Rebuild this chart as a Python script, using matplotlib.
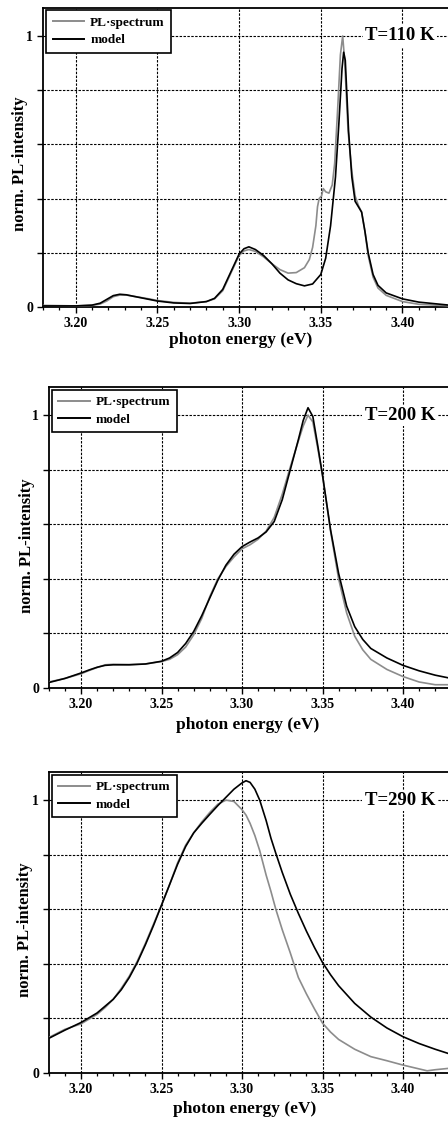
import matplotlib
matplotlib.use("Agg")
import matplotlib.pyplot as plt
from matplotlib.ticker import MultipleLocator, FixedLocator, FixedFormatter

plt.rcParams['font.family'] = ['Liberation Serif', 'DejaVu Serif']
plt.rcParams['font.weight'] = 'bold'

# ---------------- data ----------------
# Panel 1: T = 110 K
e110_pl = [3.18, 3.20, 3.21, 3.215, 3.219, 3.223, 3.227, 3.231, 3.235, 3.24, 3.245, 3.25, 3.26, 3.27,
           3.28, 3.285, 3.29, 3.295, 3.30, 3.303, 3.306, 3.31, 3.315, 3.32, 3.325, 3.33, 3.335, 3.34,
           3.343, 3.345, 3.347, 3.348, 3.349, 3.3505, 3.3515, 3.353, 3.355, 3.357, 3.3585, 3.3605,
           3.362, 3.3634, 3.3646, 3.3667, 3.369, 3.371, 3.373, 3.375, 3.377, 3.379, 3.382, 3.385,
           3.39, 3.40, 3.41, 3.43]
i110_pl = [0.006, 0.004, 0.006, 0.011, 0.022, 0.038, 0.044, 0.044, 0.040, 0.035, 0.030, 0.024, 0.017, 0.014,
           0.020, 0.030, 0.060, 0.125, 0.190, 0.207, 0.212, 0.205, 0.185, 0.160, 0.138, 0.125, 0.127, 0.145,
           0.175, 0.220, 0.300, 0.370, 0.400, 0.410, 0.437, 0.425, 0.420, 0.450, 0.530, 0.750,
           0.930, 1.000, 0.910, 0.650, 0.500, 0.410, 0.375, 0.350, 0.280, 0.190, 0.110, 0.070,
           0.043, 0.020, 0.010, 0.004]
e110_mod = [3.18, 3.20, 3.21, 3.215, 3.219, 3.223, 3.227, 3.231, 3.235, 3.24, 3.245, 3.25, 3.26, 3.27,
            3.28, 3.285, 3.29, 3.295, 3.30, 3.303, 3.306, 3.31, 3.315, 3.32, 3.325, 3.33, 3.335, 3.34,
            3.345, 3.35, 3.353, 3.356, 3.359, 3.361, 3.363, 3.364, 3.365, 3.367, 3.369, 3.371, 3.373,
            3.375, 3.377, 3.379, 3.382, 3.385, 3.39, 3.40, 3.41, 3.43]
i110_mod = [0.004, 0.004, 0.007, 0.014, 0.028, 0.042, 0.047, 0.045, 0.040, 0.034, 0.028, 0.022, 0.015, 0.013,
            0.020, 0.032, 0.065, 0.130, 0.195, 0.215, 0.222, 0.212, 0.190, 0.160, 0.125, 0.100, 0.086, 0.078,
            0.085, 0.120, 0.180, 0.300, 0.480, 0.670, 0.880, 0.940, 0.910, 0.650, 0.480, 0.390, 0.370,
            0.350, 0.280, 0.200, 0.120, 0.080, 0.052, 0.030, 0.018, 0.006]

# Panel 2: T = 200 K
e200_pl = [3.18, 3.19, 3.20, 3.205, 3.21, 3.215, 3.22, 3.23, 3.24, 3.25, 3.255, 3.26, 3.265, 3.27, 3.275,
           3.28, 3.285, 3.29, 3.295, 3.30, 3.305, 3.31, 3.315, 3.32, 3.325, 3.33, 3.335, 3.338, 3.341,
           3.344, 3.347, 3.35, 3.355, 3.36, 3.365, 3.37, 3.375, 3.38, 3.39, 3.40, 3.41, 3.42, 3.43]
i200_pl = [0.022, 0.035, 0.052, 0.064, 0.075, 0.085, 0.087, 0.086, 0.088, 0.097, 0.105, 0.122, 0.150, 0.195, 0.255,
           0.335, 0.400, 0.445, 0.480, 0.510, 0.525, 0.545, 0.575, 0.625, 0.710, 0.810, 0.905, 0.960, 1.000,
           0.975, 0.880, 0.780, 0.575, 0.400, 0.275, 0.190, 0.140, 0.105, 0.068, 0.042, 0.022, 0.012, 0.012]
e200_mod = [3.18, 3.19, 3.20, 3.205, 3.21, 3.215, 3.22, 3.23, 3.24, 3.25, 3.255, 3.26, 3.265, 3.27, 3.275,
            3.28, 3.285, 3.29, 3.295, 3.30, 3.305, 3.31, 3.315, 3.32, 3.325, 3.33, 3.335, 3.338, 3.341,
            3.344, 3.347, 3.35, 3.355, 3.36, 3.365, 3.37, 3.375, 3.38, 3.39, 3.40, 3.41, 3.42, 3.43]
i200_mod = [0.020, 0.035, 0.055, 0.066, 0.076, 0.083, 0.085, 0.085, 0.088, 0.098, 0.110, 0.130, 0.163, 0.207, 0.265,
            0.330, 0.395, 0.450, 0.490, 0.518, 0.535, 0.550, 0.572, 0.610, 0.690, 0.800, 0.910, 0.980, 1.027,
            0.995, 0.890, 0.780, 0.580, 0.420, 0.300, 0.225, 0.178, 0.145, 0.110, 0.083, 0.063, 0.047, 0.035]

# Panel 3: T = 290 K
e290_pl = [3.18, 3.19, 3.20, 3.21, 3.215, 3.22, 3.225, 3.23, 3.235, 3.24, 3.245, 3.25, 3.255, 3.26, 3.265,
           3.27, 3.275, 3.28, 3.285, 3.29, 3.295, 3.30, 3.3025, 3.305, 3.308, 3.311, 3.315, 3.318, 3.321,
           3.325, 3.33, 3.335, 3.34, 3.345, 3.35, 3.355, 3.36, 3.37, 3.38, 3.39, 3.40, 3.41, 3.415, 3.42, 3.43]
i290_pl = [0.130, 0.160, 0.180, 0.215, 0.240, 0.270, 0.310, 0.355, 0.410, 0.475, 0.545, 0.615, 0.690, 0.770, 0.835,
           0.880, 0.920, 0.955, 0.985, 1.000, 0.995, 0.965, 0.945, 0.915, 0.870, 0.815, 0.725, 0.665, 0.600,
           0.525, 0.440, 0.350, 0.290, 0.235, 0.183, 0.150, 0.123, 0.087, 0.060, 0.045, 0.029, 0.015, 0.008, 0.012, 0.018]
e290_mod = [3.18, 3.19, 3.20, 3.21, 3.215, 3.22, 3.225, 3.23, 3.235, 3.24, 3.245, 3.25, 3.255, 3.26, 3.265,
            3.27, 3.275, 3.28, 3.285, 3.29, 3.295, 3.30, 3.3025, 3.305, 3.308, 3.311, 3.315, 3.318, 3.321,
            3.325, 3.33, 3.335, 3.34, 3.345, 3.35, 3.355, 3.36, 3.37, 3.38, 3.39, 3.40, 3.41, 3.42, 3.43]
i290_mod = [0.127, 0.157, 0.185, 0.220, 0.245, 0.270, 0.305, 0.350, 0.405, 0.470, 0.540, 0.615, 0.690, 0.765, 0.830,
            0.880, 0.915, 0.948, 0.980, 1.010, 1.040, 1.063, 1.071, 1.065, 1.040, 1.000, 0.925, 0.860, 0.805,
            0.735, 0.655, 0.585, 0.520, 0.460, 0.405, 0.360, 0.320, 0.255, 0.205, 0.165, 0.133, 0.108, 0.087, 0.068]

temps = ["T=110 K", "T=200 K", "T=290 K"]
legend_labels = ["PL\u00b7spectrum", "model"]
xtick_vals = [3.20, 3.25, 3.30, 3.35, 3.40]
xtick_labels = ["3.20", "3.25", "3.30", "3.35", "3.40"]
ytick_vals = [0, 0.2, 0.4, 0.6, 0.8, 1.0]
ytick_labels = ["0", "", "", "", "", "1"]
xlabel = "photon energy (eV)"
ylabel = "norm. PL-intensity"

panels = [
    (e110_pl, i110_pl, e110_mod, i110_mod),
    (e200_pl, i200_pl, e200_mod, i200_mod),
    (e290_pl, i290_pl, e290_mod, i290_mod),
]

# ---------------- layout (pixels) ----------------
W, H = 448, 1124
fig = plt.figure(figsize=(W / 100, H / 100), dpi=100)

# (left px, top px, bottom px, px per eV, ymax, ylabel x, ylabel y, xlabel x, xlabel y)
geo = [
    (43.0, 7.5, 307.0, 1634.0, 1.105, 20, 164, 241, 340),
    (48.8, 387.0, 688.0, 1610.0, 1.103, 27, 546, 248, 725),
    (48.8, 772.0, 1073.0, 1610.0, 1.103, 25, 930, 245, 1109),
]
xmin, xmax = 3.18, 3.43
gray = "#8c8c8c"

for k, (epl, ipl, emod, imod) in enumerate(panels):
    lpx, tpx, bpx, scale, ymax, ylx, yly, xlx, xly = geo[k]
    wpx = (xmax - xmin) * scale
    ax = fig.add_axes([lpx / W, 1 - bpx / H, wpx / W, (bpx - tpx) / H])
    ax.set_xlim(xmin, xmax)
    ax.set_ylim(0, ymax)
    ax.set_axisbelow(True)

    ax.plot(epl, ipl, color=gray, lw=1.2, label=legend_labels[0], zorder=3)
    ax.plot(emod, imod, color="black", lw=1.2, label=legend_labels[1], zorder=4)

    ax.xaxis.set_major_locator(FixedLocator(xtick_vals))
    ax.xaxis.set_major_formatter(FixedFormatter(xtick_labels))
    ax.xaxis.set_minor_locator(MultipleLocator(0.01))
    ax.yaxis.set_major_locator(FixedLocator(ytick_vals))
    ax.yaxis.set_major_formatter(FixedFormatter(ytick_labels))

    ax.tick_params(axis='x', which='major', direction='out', length=4, width=1.0,
                   labelsize=10, pad=3)
    ax.tick_params(axis='x', which='minor', direction='out', length=2.5, width=0.9)
    ax.tick_params(axis='y', which='major', direction='out', length=4, width=1.0,
                   labelsize=10, pad=3)
    for lab in ax.get_xticklabels() + ax.get_yticklabels():
        lab.set_fontweight('bold')

    for gx in xtick_vals:
        ax.axvline(gx, color='black', lw=0.8, ls=(0, (2.2, 1.3)), zorder=1)
    for gy in ytick_vals[1:]:
        ax.axhline(gy, color='black', lw=0.8, ls=(0, (2.2, 1.3)), zorder=1)

    for sp in ['left', 'bottom', 'top']:
        ax.spines[sp].set_linewidth(1.3)
    ax.spines['right'].set_visible(False)

    leg = ax.legend(loc='upper left', bbox_to_anchor=(3.0 / wpx, 1 - 2.5 / (bpx - tpx)),
                    borderaxespad=0, prop={'weight': 'bold', 'size': 9.5},
                    handlelength=2.4, handletextpad=0.45, labelspacing=0.4,
                    borderpad=0.5, fancybox=False, framealpha=1, edgecolor='black')
    leg.get_frame().set_linewidth(1.2)
    leg.set_zorder(6)
    for ln in leg.get_lines():
        ln.set_linewidth(1.4)

    ax.text(3.4198, 1.0, temps[k], ha='right', va='center', fontsize=13.5, fontweight='bold',
            bbox=dict(facecolor='white', edgecolor='none', pad=1.5), zorder=5)

    fig.text(ylx / W, 1 - yly / H, ylabel, rotation=90, ha='center', va='center',
             fontsize=12, fontweight='bold')
    fig.text(xlx / W, 1 - xly / H, xlabel, ha='center', va='center',
             fontsize=12.5, fontweight='bold')

fig.savefig("out.png", dpi=100)
